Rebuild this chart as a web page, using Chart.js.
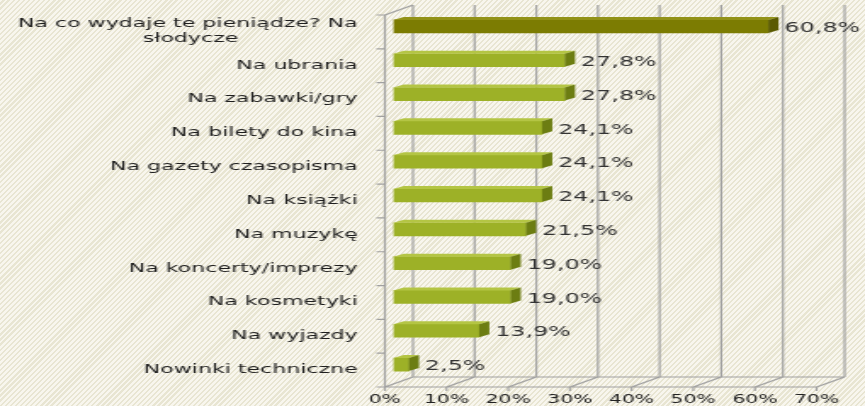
<!DOCTYPE html>
<html><head><meta charset="utf-8">
<script src="https://cdn.jsdelivr.net/npm/chart.js@4.4.1/dist/chart.umd.min.js"></script>
<style>
html,body{margin:0;padding:0;overflow:hidden;width:865px;height:406px;}
body{background:repeating-linear-gradient(135deg,#f8f6ee 0px,#f8f6ee 2px,#e8e5d2 2px,#e8e5d2 3.6px);}
canvas{display:block;width:865px;height:406px;}
</style></head>
<body>
<canvas id="c" width="509" height="406" style="width:865px;height:406px"></canvas>
<script>
// ---- data ----
const categories = [
  ["Na co wydaje te pieniądze? Na", "słodycze"],
  "Na ubrania",
  "Na zabawki/gry",
  "Na bilety do kina",
  "Na gazety czasopisma",
  "Na książki",
  "Na muzykę",
  "Na koncerty/imprezy",
  "Na kosmetyki",
  "Na wyjazdy",
  "Nowinki techniczne"
];
const values = [60.8, 27.8, 27.8, 24.1, 24.1, 24.1, 21.5, 19.0, 19.0, 13.9, 2.5];
const xTickLabels = ["0%", "10%", "20%", "30%", "40%", "50%", "60%", "70%"];

// ---- style ----
const FONT = '"DejaVu Sans", Verdana, sans-serif';
const frontCol = (i) => i === 0 ? '#7c7c02' : '#9db127';
const sideCol  = (i) => i === 0 ? '#5a5a00' : '#6c7d12';
const topCol   = (i) => i === 0 ? '#929218' : '#b4c544';
const FRONT = {dx: -5, dy: 5.5};   // front (axis) plane relative to bar plane
const BACK  = {dx: 11.5, dy: -4.5}; // back wall relative to bar plane
const BAR3D = {dx: 6, dy: -3};
const fmt = v => v.toFixed(1).replace('.', ',') + '%';

const frame3d = {
  id: 'frame3d',
  beforeDatasetsDraw(chart) {
    const {ctx, chartArea: ca, scales: {x: xs, y: ys}} = chart;
    const x0 = xs.getPixelForValue(xs.min), x1 = xs.getPixelForValue(xs.max);
    const fy = ca.bottom + FRONT.dy, by = ca.bottom + BACK.dy;
    ctx.save();
    ctx.strokeStyle = '#a0a0a0';
    ctx.lineWidth = 1.2;
    ctx.beginPath();
    xs.ticks.forEach(t => {
      const px = xs.getPixelForValue(t.value);
      ctx.moveTo(px + BACK.dx, ca.top + BACK.dy);
      ctx.lineTo(px + BACK.dx, by);
      ctx.moveTo(px + FRONT.dx, fy);
      ctx.lineTo(px + BACK.dx, by);
      ctx.moveTo(px + FRONT.dx, fy);
      ctx.lineTo(px + FRONT.dx, fy + 4);
    });
    ctx.moveTo(x0 + BACK.dx, by); ctx.lineTo(x1 + BACK.dx, by);
    ctx.moveTo(x0 + FRONT.dx, fy); ctx.lineTo(x1 + FRONT.dx, fy);
    ctx.moveTo(x0 + FRONT.dx, ca.top + FRONT.dy); ctx.lineTo(x0 + FRONT.dx, fy);
    ctx.moveTo(x0 + FRONT.dx, ca.top + FRONT.dy); ctx.lineTo(x0 + BACK.dx, ca.top + BACK.dy);
    for (let i = 0; i <= categories.length; i++) {
      const py = ys.getPixelForValue(i - 0.5) + FRONT.dy;
      ctx.moveTo(x0 + FRONT.dx - 5, py); ctx.lineTo(x0 + FRONT.dx, py);
    }
    ctx.stroke();
    ctx.restore();
  },
  afterDatasetsDraw(chart) {
    const {ctx} = chart;
    const meta = chart.getDatasetMeta(0);
    ctx.save();
    meta.data.forEach((bar, i) => {
      const {x, y, base, height} = bar.getProps(['x', 'y', 'base', 'height'], true);
      const t = y - height / 2, b = y + height / 2;
      ctx.fillStyle = topCol(i);
      ctx.beginPath();
      ctx.moveTo(base, t); ctx.lineTo(x, t);
      ctx.lineTo(x + BAR3D.dx, t + BAR3D.dy); ctx.lineTo(base + BAR3D.dx, t + BAR3D.dy);
      ctx.closePath(); ctx.fill();
      ctx.fillStyle = sideCol(i);
      ctx.beginPath();
      ctx.moveTo(x, t); ctx.lineTo(x + BAR3D.dx, t + BAR3D.dy);
      ctx.lineTo(x + BAR3D.dx, b + BAR3D.dy); ctx.lineTo(x, b);
      ctx.closePath(); ctx.fill();
      ctx.fillStyle = '#333333';
      ctx.font = '14px ' + FONT;
      ctx.textAlign = 'left';
      ctx.textBaseline = 'middle';
      ctx.fillText(fmt(values[i]), x + BAR3D.dx + 3.5, y + 2);
    });
    ctx.restore();
  }
};

new Chart(document.getElementById('c'), {
  type: 'bar',
  data: {
    labels: categories,
    datasets: [{
      data: values,
      backgroundColor: values.map((v, i) => frontCol(i)),
      barThickness: 13,
      borderWidth: 0
    }]
  },
  plugins: [frame3d],
  options: {
    indexAxis: 'y',
    responsive: false,
    animation: false,
    devicePixelRatio: 1,
    layout: {padding: {top: 9.5, bottom: 0, left: 0, right: 23.5}},
    plugins: {legend: {display: false}, tooltip: {enabled: false}},
    scales: {
      x: {
        min: 0, max: 70,
        grid: {display: false, drawTicks: false},
        border: {display: false},
        afterFit: s => { s.height = 24.5; s.paddingLeft = 0; s.paddingRight = 0; },
        ticks: {
          stepSize: 10,
          labelOffset: -5,
          padding: 11,
          color: '#222222',
          font: {family: FONT, size: 12},
          callback: (v, i) => xTickLabels[i]
        }
      },
      y: {
        grid: {display: false, drawTicks: false},
        border: {display: false},
        afterFit: s => { s.width = 231.5; s.paddingTop = 0; s.paddingBottom = 0; },
        ticks: {
          autoSkip: false,
          padding: 21,
          labelOffset: 5,
          color: '#1e1e1e',
          font: {family: FONT, size: 13, lineHeight: 1.15},
          callback: function (value, index) {
            const lbl = categories[index];
            if (!Array.isArray(lbl)) return lbl;
            const ctx = this.chart.ctx;
            ctx.save();
            ctx.font = '13px ' + FONT;
            const w = lbl.map(s => ctx.measureText(s).width);
            const maxW = Math.max(...w);
            const sp = ctx.measureText(' ').width;
            const out = lbl.map((s, k) => s + ' '.repeat(Math.round((maxW - w[k]) / 2 / sp)));
            ctx.restore();
            return out;
          }
        }
      }
    }
  }
});
</script>
</body></html>
